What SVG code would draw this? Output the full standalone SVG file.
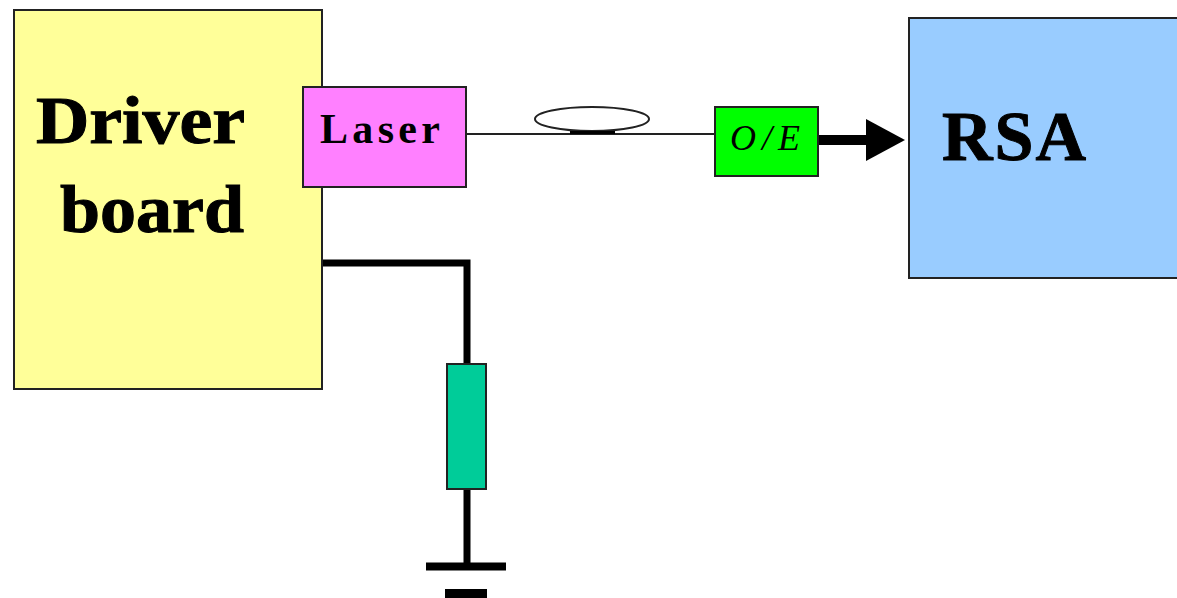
<svg xmlns="http://www.w3.org/2000/svg" width="1177" height="598" viewBox="0 0 1177 598">
<style>
.b{stroke:#222;stroke-width:2}
.w{fill:none;stroke:#000;stroke-width:7}
.t{font-family:"Liberation Serif",serif;font-weight:bold;fill:#000;stroke:#000;stroke-width:1}
</style>
<rect width="1177" height="598" fill="#fff"/>
<g id="connectors">
<path d="M466 134H715" fill="none" stroke="#222" stroke-width="2"/>
<path class="w" d="M322 263H467V364"/>
<path class="w" d="M467 489V566"/>
<path d="M426 566.500H506" fill="none" stroke="#000" stroke-width="8"/>
<path d="M445 594H487" fill="none" stroke="#000" stroke-width="10"/>
<path d="M818 140H870" fill="none" stroke="#000" stroke-width="10"/>
<path d="M866 119L905 140L866 161Z" fill="#000"/>
</g>
<g id="driver"><rect class="b" x="14" y="10" width="308" height="379" fill="#ffff99"/>
<text class="t" x="36" y="143" font-size="68" textLength="209" lengthAdjust="spacingAndGlyphs">Driver</text>
<text class="t" x="60" y="232" font-size="68" textLength="184" lengthAdjust="spacingAndGlyphs">board</text></g>
<g id="laser"><rect class="b" x="303" y="87" width="163" height="100" fill="#ff80ff"/>
<text x="320" y="143" font-size="42" font-weight="bold" textLength="120" lengthAdjust="spacing" font-family="Liberation Serif, serif">Laser</text></g>
<g id="coil"><ellipse cx="592" cy="119" rx="57" ry="12" fill="#fff" stroke="#222" stroke-width="2"/><path d="M570 132.500H615" stroke="#000" stroke-width="3"/></g>
<g id="oe"><rect class="b" x="715" y="107" width="103" height="69" fill="#00ff00"/>
<text x="730" y="150" font-size="36" font-style="italic" textLength="70" lengthAdjust="spacing" font-family="Liberation Serif, serif">O/E</text></g>
<g id="rsa"><rect class="b" x="909" y="18" width="270" height="260" fill="#99ccff"/>
<text class="t" x="942" y="160" font-size="70" textLength="144" lengthAdjust="spacing">RSA</text></g>
<g id="resistor"><rect class="b" x="447" y="364" width="39" height="125" fill="#00cc99"/></g>
</svg>
